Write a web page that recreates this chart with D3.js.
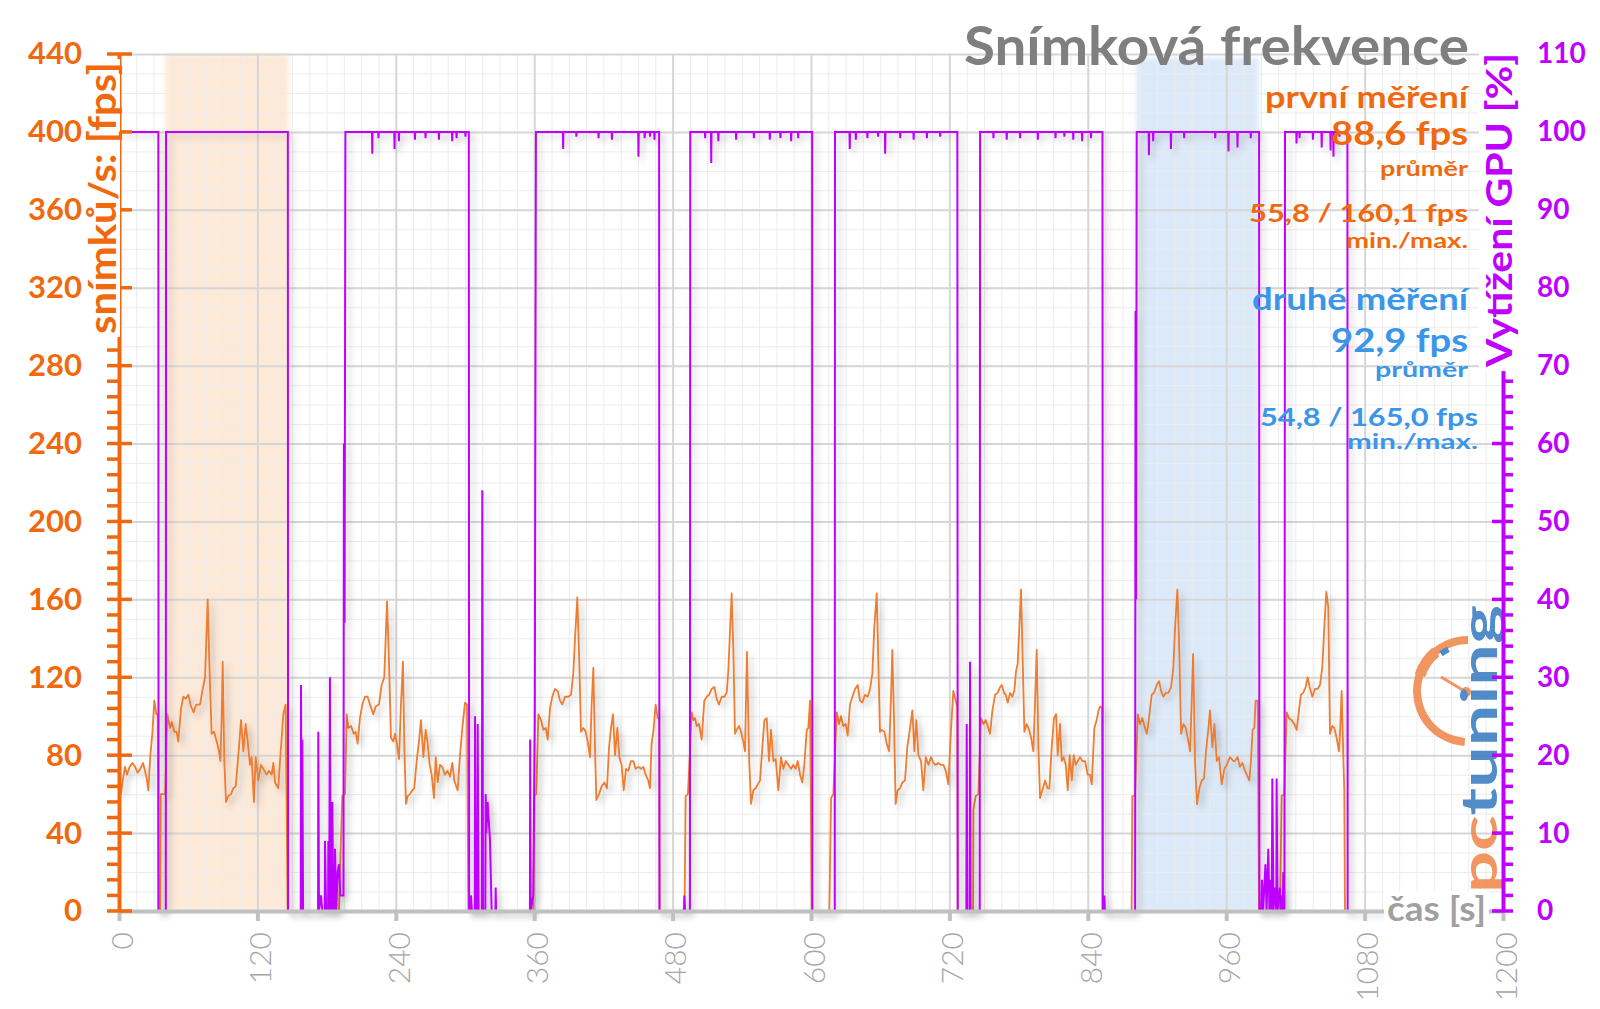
<!DOCTYPE html>
<html><head><meta charset="utf-8">
<script src="https://cdn.jsdelivr.net/npm/d3@7"></script>
<style>html,body{margin:0;padding:0;background:#fff}svg{display:block;font-family:Lato,"Open Sans",sans-serif}</style>
</head><body><svg id="chart" width="1600" height="1009"></svg>
<script>
// ---------------- DATA ----------------
const timeTicks = [0,120,240,360,480,600,720,840,960,1080,1200];
const fpsTicks = [0,40,80,120,160,200,240,280,320,360,400,440];
const gpuTicks = [0,10,20,30,40,50,60,70,80,90,100,110];
const firstBand = [40,147];
const secondBand = [882,988];

// frame rate [s, fps]
const fpsLoop0 = [[0,77],[1.7,60],[3.5,68],[5.2,74],[6.9,70],[9.2,74],[11.6,76],[13.9,74],[16.2,71],[18.5,73],[20.8,76],[22.5,72],[24,68],[25.4,62],[27.2,80],[28.9,91],[30.6,108],[32.4,101],[33.6,101],[34.1,0],[35.8,0],[36.2,60],[40,60]];
const fpsLoop1 = [[41.9,101],[44.2,94],[45.7,97],[48,92],[50,92],[51.4,87],[53.8,104],[55.8,110],[57.8,109],[60.1,111],[62.4,105],[64.7,102],[67,106],[70.2,106],[72.3,113],[74.6,120],[76.9,160],[78.3,128],[80.3,91],[82.4,92],[84.7,87],[86.7,82],[87.9,77],[89,99],[89.9,128],[91.3,77],[92.8,56],[94.8,59],[97.1,60],[99.1,63],[101.2,64],[103.5,80],[105.8,98],[107.8,82],[109.8,96],[111.6,87],[113.6,75],[115,79],[117,56],[118.5,79],[120.8,67],[123.1,75],[125.1,73],[128,70],[130,72],[132.4,70],[133.8,76],[135.3,66],[138.1,63],[139.6,77],[142.5,101],[144.5,106],[146.2,0]];
const fpsLoop2 = [[190.7,0],[191.9,25],[193.6,59],[196,60],[197.4,101],[198.8,94],[201.2,95],[203.5,91],[205.2,92],[206.9,86],[208.9,99],[211,106],[213.3,110],[215.6,110],[217.6,106],[220.5,101],[222.5,105],[225.4,106],[227.7,116],[230,120],[232.4,159],[234.1,128],[235.8,89],[237.9,87],[239.3,91],[240.7,87],[242.8,78],[244.5,106],[246.2,128],[247.4,84],[248.8,55],[250.3,59],[252.3,60],[254.3,62],[256,63],[258.1,77],[260.1,87],[261.8,98],[263.9,79],[265.9,93],[267.6,86],[269.4,75],[271.1,70],[273.1,58],[274.6,79],[276.3,66],[278.3,75],[280.3,74],[282.6,70],[284.9,72],[287,69],[289,76],[290.7,67],[293.6,62],[295.7,80],[297.7,94],[300,107],[301.7,106],[302.9,0]];
const fpsLoop3 = [[359.2,0],[360.1,59],[361.8,60],[363.6,101],[365.9,98],[368,93],[370,94],[371.7,88],[373.7,104],[375.7,110],[378,114],[380.3,113],[382.4,108],[384.4,106],[386.7,110],[389.6,110],[391.9,111],[393.9,122],[395.4,140],[397.4,161],[399.1,128],[400.6,92],[402.6,94],[404.6,92],[406.4,87],[408.4,79],[409.8,106],[411.3,125],[412.7,84],[413.9,57],[416.2,60],[418.5,64],[420.8,66],[423.1,63],[424.9,84],[426.6,94],[428.3,101],[430.1,80],[432.1,94],[433.8,79],[435.8,75],[437.6,62],[439.6,73],[441.6,72],[443.9,77],[445.9,77],[448,73],[450.3,74],[452.6,73],[454.6,74],[456.6,70],[458.9,67],[460.4,63],[461.8,86],[463.3,92],[465.3,106],[467.1,99],[468.4,99],[468.8,0]];
const fpsLoop4 = [[489.5,0],[490.5,9],[491.3,59],[493.3,60],[496.6,102],[498,98],[499.4,99],[500.9,95],[502.9,96],[505.2,88],[507.5,108],[509.6,110],[511.6,111],[513.9,114],[516.2,115],[518.2,109],[520.2,106],[522.6,110],[524.9,110],[526.9,112],[528.3,123],[529.8,144],[531.2,163],[532.7,134],[534.1,91],[535.6,93],[537.6,95],[539.3,92],[541.3,87],[542.8,82],[543.7,111],[544.5,133],[546.3,79],[548,55],[550,62],[552,63],[553.8,65],[555.8,67],[557.8,84],[559.6,98],[561.6,99],[563.6,77],[565.3,93],[567.4,77],[569.4,78],[571.7,62],[574,79],[576,73],[578.1,77],[580.4,75],[582.7,73],[584.7,75],[586.7,73],[588.5,77],[590.5,70],[592.5,66],[594.2,75],[596.3,93],[597.7,94],[599.2,108],[600.6,0]];
const fpsLoop5 = [[615.9,0],[617.4,58],[619.4,60],[622.3,102],[624.3,96],[626,100],[628,95],[630.1,96],[631.8,90],[633.8,106],[635.9,110],[638.2,114],[640.5,116],[642.5,108],[644.5,107],[646.8,111],[649.2,110],[651.2,114],[653.2,122],[654.9,146],[657,163],[658.4,128],[659.8,92],[661.3,93],[663.6,92],[665.6,86],[667.7,82],[669.4,110],[670.5,134],[672,98],[673.4,55],[675.2,62],[677.2,63],[679.2,66],[681.5,67],[683.5,84],[685.9,94],[687.9,103],[689.6,82],[691.3,98],[693.1,80],[695.4,77],[697.4,62],[699.5,79],[701.8,75],[704.1,79],[706.1,76],[708.1,75],[710.4,76],[712.7,75],[714.8,75],[716.8,72],[719.1,65],[721.4,93],[723.4,113],[725.5,108],[726.8,105],[727.3,0]];
const fpsLoop6 = [[740.5,0],[740.8,52],[742.8,59],[745.1,60],[747.4,99],[749.5,96],[751.5,98],[753.2,95],[755.2,91],[757.3,103],[759.6,111],[761.9,112],[763.9,115],[765.4,116],[767.4,112],[768.8,111],[770.6,107],[772.6,112],[774.6,110],[776.3,113],[777.8,123],[779.2,127],[780.7,146],[782.1,165],[783.6,128],[785,92],[787,96],[789.1,93],[790.8,89],[792.8,82],[794.3,108],[795.7,134],[797.2,84],[798.6,58],[800.6,62],[803,67],[805,63],[806.7,63],[808.7,84],[810.7,99],[812.5,101],[813.9,80],[815.9,96],[817.4,77],[819.1,79],[820.9,75],[822.6,62],[824.3,80],[826.1,67],[827.8,80],[829.5,75],[831.3,77],[833.3,79],[835.3,77],[837.6,77],[839.9,70],[841.9,70],[843.4,65],[845.7,94],[847.7,98],[849.7,104],[850.9,105],[852.3,104],[852.8,0]];
const fpsLoop7 = [[878,0],[878.6,59],[881,59],[883.3,101],[885.3,96],[887.3,99],[889.6,94],[891.1,91],[892.5,96],[895.4,111],[897.4,112],[899.8,116],[901.8,118],[903.5,113],[905.5,110],[907.6,112],[909.9,112],[912.2,115],[914.2,125],[915.7,146],[917.7,165],[919.4,132],[920.9,91],[922.9,96],[924.9,94],[926.6,89],[928.7,82],[930.1,108],[931.3,132],[933,77],[934.7,54.8],[936.8,63],[938.8,67],[940.8,68],[942.5,82],[944.6,94],[946,103],[948,84],[949.8,96],[951.8,77],[953.8,79],[956.1,65],[958.4,73],[960.5,75],[963.3,79],[966.2,77],[967.6,77],[969.9,79],[971.9,74],[974,76],[976.3,72],[978.6,69],[980,67],[981.5,77],[982.9,93],[984.4,94],[985.5,108],[987.3,108],[988.4,0]];
const fpsLoop8 = [[1006.6,0],[1008.1,59],[1010.4,60],[1012.4,102],[1014.4,99],[1016.7,98],[1019,96],[1021.1,93],[1023.1,103],[1024.8,111],[1026.8,112],[1028.9,115],[1030.6,120],[1032.3,115],[1034.7,110],[1037,114],[1039.3,114],[1041.3,116],[1043.3,125],[1045.1,146],[1046.8,164],[1048.5,156],[1050,91],[1052,95],[1053.7,94],[1055.7,89],[1057.8,82],[1058.9,94],[1060.1,113],[1061.5,80],[1062.4,62],[1063,0],[1066,0]];

// GPU load [s, %]
const gpuPart1 = [[0,100],[34.1,100],[34.3,0],[40.6,0],[40.8,100],[146.4,100],[146.6,0],[157.6,0],[157.8,29],[158.6,0],[159,22],[159.6,0],[172.6,0],[172.8,23],[173.4,0],[175.1,2],[176.3,0],[178.4,0],[178.6,9],[179.6,0],[181.3,0],[181.5,9],[182.2,0],[182.9,30],[183.6,0],[184.8,0],[185,14],[185.8,0],[187.1,0],[187.3,8],[188.4,0],[189.6,5],[190.7,6],[191.9,2],[193,2],[194.6,2],[195,60],[195.6,37],[196.3,100]];
const gpuPart2 = [[303.3,100],[303.6,0],[305,0],[305.2,2],[306,0],[308.5,0],[308.7,25],[309.5,0],[310.8,0],[311,24],[311.8,0],[314.6,0],[315,54],[315.6,0],[317.6,0],[317.9,15],[318.5,10],[319.6,14],[321.7,9],[323.1,0],[326.4,0],[326.6,3],[327,0],[356.3,0],[356.5,22],[357,0],[359.2,2],[360.5,25],[361.5,100]];
const gpuPart3 = [[468.3,100],[468.6,0],[490,0],[490.3,2],[490.8,0],[495,0],[495.3,100],[601,100],[601.2,0],[620.6,0],[620.8,100]];
const gpuPart4 = [[726.9,100],[727.2,0],[734.7,0],[735,24],[735.5,0],[737.6,0],[737.9,32],[738.4,0],[746.3,0],[746.6,100],[852.7,100],[853,0],[854,0],[854.3,2],[854.8,0],[881,0],[881.4,77],[881.9,40],[882.4,100]];
const gpuPart5 = [[988.5,100],[988.8,0],[990.5,0],[991,4],[992,0],[994,6],[995,0],[996.5,8],[997.5,0],[998.5,4],[999.5,0],[1000,17],[1001,0],[1002,3],[1003.5,0],[1003.7,17],[1004.5,0],[1006.5,3],[1007.5,0],[1008.3,2],[1009,0],[1009.5,5],[1010.5,0],[1011,100],[1065.1,100],[1065.3,0],[1094.7,0]];
const gpuDips = [[219.6,97.2],[225,99.2],[238.9,97.8],[242.7,98.8],[256.6,99],[265.8,99.2],[277.4,99],[288.9,98.8],[292.7,99.2],[300.4,99.4],
  [385.1,97.8],[396.6,99.4],[415.8,99.2],[427.4,99],[450.4,96.8],[455.8,99.2],[460.4,99.4],[464.3,99],
  [508.2,99.2],[513.5,96],[519.7,98.8],[535.1,99],[550.5,99.2],[564.3,99],[573.5,99.2],[582.8,98.8],[588.9,99.2],
  [633.6,97.8],[638.9,99],[648.9,99.2],[658.2,99.4],[664.3,97.2],[677.4,99.2],[689,99],[700.5,99.2],[712,99.4],
  [758.2,99.2],[769.7,99],[781.3,99.2],[796.7,99],[812,99.2],[819.7,99.4],[827.4,99],[835.1,98.8],[842.8,99.2],
  [893,97],[896.7,98.8],[912.1,97.8],[923.6,99.2],[950.5,99.2],[962,97.5],[969.8,98],[981.3,99.2],
  [1021,98.5],[1023.6,99.2],[1035.2,99],[1042.8,98],[1050.5,97.6],[1053,96.8],[1058.2,99.4]];

// ---------------- CHART ----------------
const P = {l:119, r:1503, t:54, b:911};
const ORANGE = '#f0690f', FPSLINE = '#ed7d31', PURPLE = '#c000ff', BLUE = '#3a96e8', GRAY = '#7f7f7f';
const x = d3.scaleLinear().domain([0,1200]).range([P.l,P.r]);
const yL = d3.scaleLinear().domain([0,440]).range([P.b,P.t]);
const yR = d3.scaleLinear().domain([0,110]).range([P.b,P.t]);
const svg = d3.select('#chart');
const defs = svg.append('defs');
defs.append('filter').attr('id','soft').attr('x','-20%').attr('y','-5%').attr('width','140%').attr('height','110%')
  .append('feGaussianBlur').attr('stdDeviation',2.5);
const sh = defs.append('filter').attr('id','shadow').attr('x','-2%').attr('y','-5%').attr('width','104%').attr('height','112%');
sh.append('feDropShadow').attr('dx',4).attr('dy',4).attr('stdDeviation',3).attr('flood-color','#000').attr('flood-opacity',0.22);

svg.append('rect').attr('width',1600).attr('height',1009).attr('fill','#fff');

// bands
[[firstBand,'#fde9d8',P.t],[secondBand,'#dce9f8',P.t+4]].forEach(([b,c,top])=>{
  svg.append('rect').attr('x',x(b[0])).attr('y',top).attr('width',x(b[1])-x(b[0])).attr('height',P.b-top)
    .attr('fill',c).attr('filter','url(#soft)');
});

// grid (minor + major) via axes
const H = P.b-P.t, Wd = P.r-P.l;
function grid(axis, transform, color, width){
  const g = svg.append('g').attr('transform',transform).call(axis);
  g.select('.domain').remove();
  g.selectAll('text').remove();
  g.selectAll('line').attr('stroke',color).attr('stroke-width',width);
  return g;
}
grid(d3.axisBottom(x).tickValues(d3.range(0,1201,15)).tickSize(-H).tickFormat(''), `translate(0,${P.b})`, '#ececec', 1);
grid(d3.axisLeft(yL).tickValues(d3.range(0,441,10)).tickSize(-Wd).tickFormat(''), `translate(${P.l},0)`, '#ececec', 1);
grid(d3.axisBottom(x).tickValues(timeTicks).tickSize(-H).tickFormat(''), `translate(0,${P.b})`, '#d6d6d6', 2);
grid(d3.axisLeft(yL).tickValues(fpsTicks).tickSize(-Wd).tickFormat(''), `translate(${P.l},0)`, '#d6d6d6', 2);

// logo (pctuning)
const logo = svg.append('g').attr('opacity',0.9);
const gc = {cx:1468, cy:691, r:51};
logo.append('path').attr('d', d3.arc()({innerRadius:gc.r-4,outerRadius:gc.r+4,startAngle:Math.PI*1.02,endAngle:Math.PI*2}))
  .attr('transform',`translate(${gc.cx},${gc.cy})`).attr('fill','#f08a50');
logo.append('path').attr('d', d3.arc()({innerRadius:gc.r-6,outerRadius:gc.r+5,startAngle:Math.PI*1.6,endAngle:Math.PI*1.78}))
  .attr('transform',`translate(${gc.cx},${gc.cy})`).attr('fill','#f08a50');
logo.append('path').attr('d', d3.arc()({innerRadius:gc.r-8,outerRadius:gc.r-2,startAngle:Math.PI*1.8,endAngle:Math.PI*1.86}))
  .attr('transform',`translate(${gc.cx},${gc.cy})`).attr('fill','#3f80c4');
logo.append('line').attr('x1',gc.cx-27).attr('y1',gc.cy-14).attr('x2',gc.cx-2).attr('y2',gc.cy+1).attr('stroke','#f08a50').attr('stroke-width',3);
logo.append('circle').attr('cx',gc.cx-2).attr('cy',gc.cy+1).attr('r',5).attr('fill','#f08a50');
const lt = logo.append('text').attr('transform','translate(1497,893) rotate(-90)')
  .attr('font-size',50).attr('font-weight',700).attr('textLength',288).attr('lengthAdjust','spacingAndGlyphs');
lt.append('tspan').attr('fill','#f08a50').text('pc');
lt.append('tspan').attr('fill','#3f80c4').text('tuning');

// lines
const fpsData = [].concat(fpsLoop0,fpsLoop1,fpsLoop2,fpsLoop3,fpsLoop4,fpsLoop5,fpsLoop6,fpsLoop7,fpsLoop8);
const gpuBase = [].concat(gpuPart1,gpuPart2,gpuPart3,gpuPart4,gpuPart5);
const gpuData = gpuBase.concat(...gpuDips.map(([t,v])=>[[t-0.25,100],[t,v],[t+0.25,100]])).sort((a,b)=>a[0]-b[0]);
svg.append('path').datum(fpsData).attr('fill','none').attr('stroke',FPSLINE).attr('stroke-width',1.8)
  .attr('stroke-linejoin','round').attr('filter','url(#shadow)')
  .attr('d', d3.line().x(d=>x(d[0])).y(d=>yL(d[1])));
svg.append('path').datum(gpuData).attr('fill','none').attr('stroke',PURPLE).attr('stroke-width',2)
  .attr('stroke-linejoin','miter').attr('filter','url(#shadow)')
  .attr('d', d3.line().x(d=>x(d[0])).y(d=>yR(d[1])));

// bottom axis
const ax = svg.append('g').attr('transform',`translate(0,${P.b})`)
  .call(d3.axisBottom(x).tickValues(timeTicks).tickSize(10).tickSizeOuter(0).tickFormat(d3.format('d')));
ax.select('.domain').attr('stroke','#c0c0c0').attr('stroke-width',4);
ax.selectAll('line').attr('stroke','#c0c0c0').attr('stroke-width',4);
ax.selectAll('text').attr('transform','rotate(-90)').attr('text-anchor','end').attr('x',-21).attr('y',0).attr('dy','0.44em')
  .attr('fill','#a6a6a6').attr('font-size',30).attr('font-weight',300).attr('font-family','Lato');

// left axis
const al = svg.append('g').attr('transform',`translate(${P.l},0)`)
  .call(d3.axisLeft(yL).tickValues(fpsTicks).tickSize(0).tickPadding(37).tickFormat(d3.format('d')));
al.select('.domain').attr('stroke',ORANGE).attr('stroke-width',4);
al.selectAll('text').attr('fill',ORANGE).attr('font-size',31).attr('font-weight',700).attr('font-family','Lato');
al.selectAll('.minor').data(d3.range(0,441,8).filter(v=>v%40)).enter().append('line')
  .attr('x1',-12).attr('x2',0).attr('y1',d=>yL(d)).attr('y2',d=>yL(d)).attr('stroke',ORANGE).attr('stroke-width',3.5);
al.selectAll('.major').data(fpsTicks).enter().append('line')
  .attr('x1',-12).attr('x2',13).attr('y1',d=>yL(d)).attr('y2',d=>yL(d)).attr('stroke',ORANGE).attr('stroke-width',3.5);

// right axis
const ar = svg.append('g').attr('transform',`translate(${P.r},0)`)
  .call(d3.axisRight(yR).tickValues(gpuTicks).tickSize(0).tickPadding(34).tickFormat(d3.format('d')));
ar.select('.domain').attr('stroke',PURPLE).attr('stroke-width',4);
ar.selectAll('text').attr('fill',PURPLE).attr('font-size',28).attr('font-weight',700).attr('font-family','Lato');
ar.selectAll('.minor').data(d3.range(0,111,2).filter(v=>v%10)).enter().append('line')
  .attr('x1',0).attr('x2',10).attr('y1',d=>yR(d)).attr('y2',d=>yR(d)).attr('stroke',PURPLE).attr('stroke-width',3.5);
ar.selectAll('.major').data(gpuTicks).enter().append('line')
  .attr('x1',-11).attr('x2',10).attr('y1',d=>yR(d)).attr('y2',d=>yR(d)).attr('stroke',PURPLE).attr('stroke-width',3.5);

// text helpers
function bgText(g, pad){
  const t = g.select('text'); const bb = t.node().getBBox();
  g.insert('rect','text').attr('x',bb.x-pad).attr('y',bb.y+4).attr('width',bb.width+2*pad).attr('height',bb.height-8).attr('fill','#fff');
}
function rotTitle(str, bx, ytop, size, len, color){
  const g = svg.append('g').attr('transform',`translate(${bx},${ytop}) rotate(-90)`);
  g.append('text').attr('text-anchor','end').attr('font-size',size).attr('font-weight',700).attr('fill',color)
    .attr('textLength',len).attr('lengthAdjust','spacingAndGlyphs').text(str);
  bgText(g,3);
}
rotTitle('snímků/s: [fps]', 116, 62, 38, 272, ORANGE);
rotTitle('Vytížení GPU [%]', 1512, 53, 37, 314, PURPLE);

const cas = svg.append('g');
cas.append('text').attr('x',1486).attr('y',921).attr('text-anchor','end').attr('font-size',34).attr('font-weight',700)
  .attr('fill','#a0a0a0').attr('textLength',99).attr('lengthAdjust','spacingAndGlyphs').text('čas [s]');
bgText(cas,3);

function rtext(str, xr, yb, size, color, len){
  const t = svg.append('text').attr('x',xr).attr('y',yb).attr('text-anchor','end').attr('font-size',size)
    .attr('font-weight',700).attr('fill',color).text(str);
  if(len) t.attr('textLength',len).attr('lengthAdjust','spacingAndGlyphs');
  return t;
}
rtext('Snímková frekvence', 1469, 65, 53, GRAY, 505);
rtext('první měření', 1468, 108, 30, ORANGE, 203);
rtext('88,6 fps', 1468, 145, 33, ORANGE, 137);
rtext('průměr', 1468, 176, 21, ORANGE, 88);
rtext('55,8 / 160,1 fps', 1468, 222, 24, ORANGE, 219);
rtext('min./max.', 1468, 248, 20, ORANGE, 122);
rtext('druhé měření', 1468, 310, 30, BLUE, 216);
rtext('92,9 fps', 1468, 352, 33, BLUE, 137);
rtext('průměr', 1468, 377, 20, BLUE, 93);
rtext('54,8 / 165,0 fps', 1478, 426, 24, BLUE, 218);
rtext('min./max.', 1478, 449, 20, BLUE, 131);
</script></body></html>
